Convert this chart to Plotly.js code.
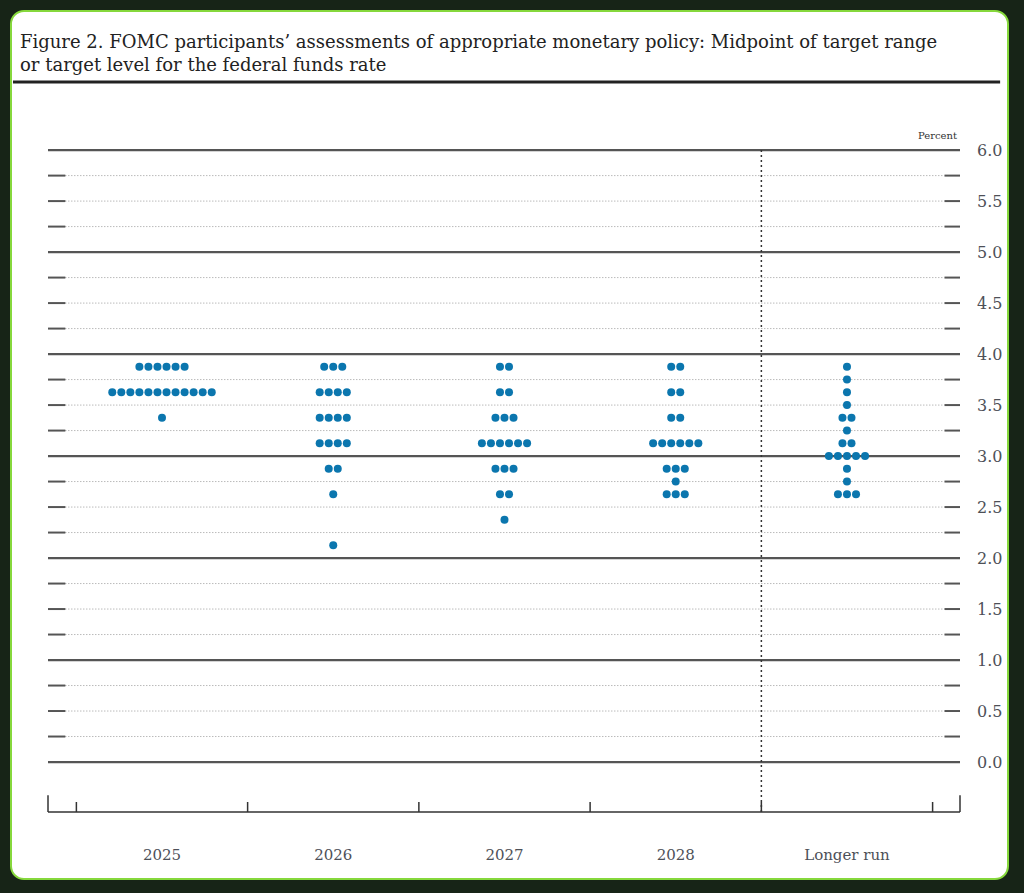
<!DOCTYPE html>
<html><head><meta charset="utf-8">
<script src="https://cdn.plot.ly/plotly-3.0.1.min.js"></script>
<style>
html,body{margin:0;padding:0;background:#172417;width:1024px;height:893px;overflow:hidden}
#card{position:absolute;left:10px;top:10px;width:999px;height:870px;background:#fff;border:2px solid #86d83c;border-radius:14px;box-sizing:border-box}
#chart{position:absolute;left:0;top:0;width:1024px;height:893px}
</style></head><body><div id="card"></div><div id="chart"></div>
<script>
const categories = ['2025', '2026', '2027', '2028', 'Longer run'];
const levels = [3.875, 3.75, 3.625, 3.5, 3.375, 3.25, 3.125, 3.0, 2.875, 2.75, 2.625, 2.5, 2.375, 2.25, 2.125];
const counts2025   = [6, 0, 12, 0, 1, 0, 0, 0, 0, 0, 0, 0, 0, 0, 0];
const counts2026   = [3, 0, 4, 0, 4, 0, 4, 0, 2, 0, 1, 0, 0, 0, 1];
const counts2027   = [2, 0, 2, 0, 3, 0, 6, 0, 3, 0, 2, 0, 1, 0, 0];
const counts2028   = [2, 0, 2, 0, 2, 0, 6, 0, 3, 1, 3, 0, 0, 0, 0];
const countsLonger = [1, 1, 1, 1, 2, 1, 2, 5, 1, 1, 3, 0, 0, 0, 0];
const yTickVals = [0, 0.5, 1, 1.5, 2, 2.5, 3, 3.5, 4, 4.5, 5, 5.5, 6];
const yTickText = ['0.0', '0.5', '1.0', '1.5', '2.0', '2.5', '3.0', '3.5', '4.0', '4.5', '5.0', '5.5', '6.0'];

const allCounts = [counts2025, counts2026, counts2027, counts2028, countsLonger];
const dotStep = 0.0528;
const xs = [], ys = [];
allCounts.forEach((cnts, ci) => {
  cnts.forEach((n, li) => {
    for (let j = 0; j < n; j++) {
      xs.push(ci + (j - (n - 1) / 2) * dotStep);
      ys.push(levels[li]);
    }
  });
});

const shapes = [];
for (let k = 0; k <= 24; k++) {
  const v = k * 0.25;
  if (k % 4 === 0) {
    shapes.push({type: 'line', layer: 'below', xref: 'paper', yref: 'y', x0: 0, x1: 1, y0: v, y1: v,
      line: {color: '#555', width: 2.2}});
  } else {
    shapes.push({type: 'line', layer: 'below', xref: 'paper', yref: 'y', x0: 0.019, x1: 0.983, y0: v, y1: v,
      line: {color: '#9a9a9a', width: 1, dash: '1px,2px'}});
    shapes.push({type: 'line', layer: 'below', xref: 'paper', yref: 'y', x0: 0, x1: 0.019, y0: v, y1: v,
      line: {color: '#555', width: 2}});
    shapes.push({type: 'line', layer: 'below', xref: 'paper', yref: 'y', x0: 0.983, x1: 1, y0: v, y1: v,
      line: {color: '#555', width: 2}});
  }
}
// baseline and end ticks
shapes.push({type: 'line', xref: 'paper', yref: 'paper', x0: 0, x1: 1, y0: 0, y1: 0, line: {color: '#333', width: 1.5}});
shapes.push({type: 'line', xref: 'paper', yref: 'paper', x0: 0, x1: 0, y0: 0, y1: 0.025, line: {color: '#333', width: 1.5}});
shapes.push({type: 'line', xref: 'paper', yref: 'paper', x0: 1, x1: 1, y0: 0, y1: 0.025, line: {color: '#333', width: 1.5}});
for (let b = -0.5; b <= categories.length - 0.5; b += 1) {
  shapes.push({type: 'line', xref: 'x', yref: 'paper', x0: b, x1: b, y0: 0, y1: 0.015, line: {color: '#333', width: 1.5}});
}
// separator before longer run
shapes.push({type: 'line', xref: 'x', yref: 'y', x0: categories.length - 1.5, x1: categories.length - 1.5, y0: 6, y1: -0.49,
  line: {color: '#333', width: 1.5, dash: '2px,3px'}});
// title rule
shapes.push({type: 'line', xref: 'paper', yref: 'paper', x0: -0.0384, x1: 1.044, y0: 1.0945, y1: 1.0945, line: {color: '#222', width: 3}});

const trace = {
  type: 'scatter', mode: 'markers', x: xs, y: ys, hoverinfo: 'skip',
  marker: {color: '#0b76ae', size: 8, line: {width: 0}}
};

const serif = '"DejaVu Serif", "Liberation Serif", serif';
const layout = {
  width: 1024, height: 893,
  paper_bgcolor: 'rgba(0,0,0,0)', plot_bgcolor: 'rgba(0,0,0,0)',
  margin: {l: 48, r: 64, t: 145, b: 81},
  showlegend: false,
  title: {
    text: 'Figure 2. FOMC participants\u2019 assessments of appropriate monetary policy: Midpoint of target range<br>or target level for the federal funds rate',
    xref: 'container', yref: 'container', x: 20 / 1024, xanchor: 'left', y: 1 - 48 / 893, yanchor: 'top',
    font: {family: serif, size: 18, color: '#222'}
  },
  xaxis: {
    range: [-0.6657, 4.66], tickvals: [0, 1, 2, 3, 4], ticktext: categories,
    showgrid: false, zeroline: false, showline: false, ticks: '', ticklabelstandoff: 32,
    tickfont: {family: serif, size: 15, color: '#4d5058'}, fixedrange: true
  },
  yaxis: {
    range: [-0.49, 6.05], side: 'right', tickvals: yTickVals, ticktext: yTickText,
    showgrid: false, zeroline: false, showline: false, ticks: '', ticklabelstandoff: 16,
    tickfont: {family: serif, size: 16, color: '#4d5058'}, fixedrange: true
  },
  shapes: shapes,
  annotations: [{
    text: 'Percent', xref: 'paper', yref: 'paper', x: 0.999, y: 1.0, xanchor: 'right', yanchor: 'bottom', yshift: 2,
    showarrow: false, font: {family: serif, size: 10, color: '#333'}
  }]
};

Plotly.newPlot('chart', [trace], layout, {displayModeBar: false, staticPlot: true});
</script></body></html>
